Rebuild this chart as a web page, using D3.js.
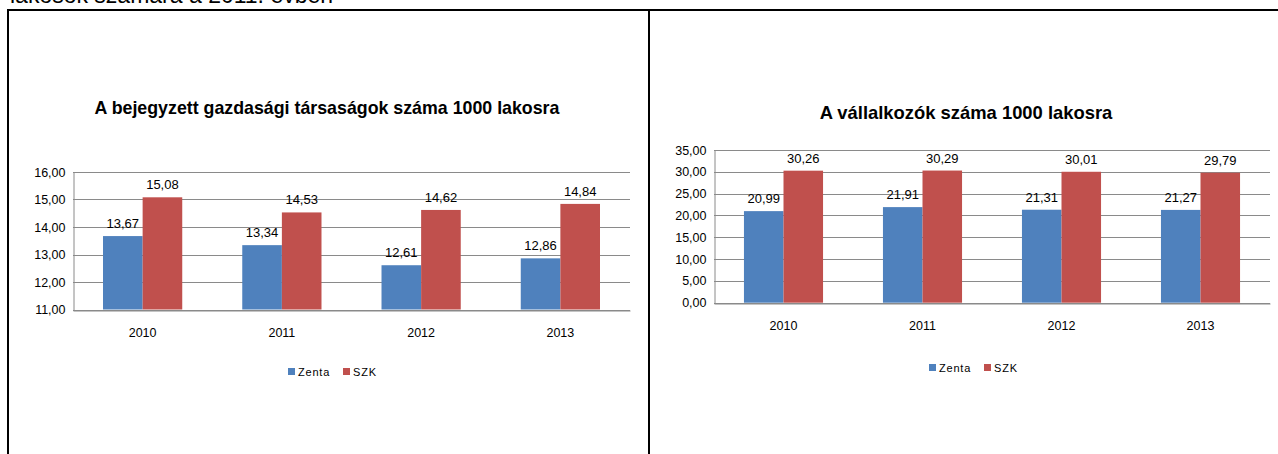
<!DOCTYPE html>
<html>
<head>
<meta charset="utf-8">
<script src="https://cdn.jsdelivr.net/npm/d3@7"></script>
<style>
  html, body { margin: 0; padding: 0; background: #fff; }
  svg { display: block; }
  text { font-family: "Liberation Sans", Arial, sans-serif; fill: #000; }
</style>
</head>
<body>
<svg id="chart" width="1278" height="454"></svg>
<script>
// ---- data ----
const years = ["2010", "2011", "2012", "2013"];
const seriesNames = ["Zenta", "SZK"];
const companiesZenta = [13.67, 13.34, 12.61, 12.86];
const companiesSZK = [15.08, 14.53, 14.62, 14.84];
const entrepreneursZenta = [20.99, 21.91, 21.31, 21.27];
const entrepreneursSZK = [30.26, 30.29, 30.01, 29.79];
const companiesTicks = [11, 12, 13, 14, 15, 16];
const entrepreneursTicks = [0, 5, 10, 15, 20, 25, 30, 35];
const titleLeft = "A bejegyzett gazdasági társaságok száma 1000 lakosra";
const titleRight = "A vállalkozók száma 1000 lakosra";
const headerText = "lakosok számára a 2011. évben";

const colors = ["#4F81BD", "#C0504D"];
const gridColor = "#8a8a8a";
const fmt = v => d3.format(".2f")(v).replace(".", ",");

const svg = d3.select("#chart");

// frame (table borders); the header line of the page above is cut off, as in the reference
svg.append("text").attr("x", 10).attr("y", 3).attr("font-size", 23).text(headerText);
svg.append("line").attr("x1", 7).attr("x2", 1278).attr("y1", 10).attr("y2", 10)
  .attr("stroke", "#000").attr("stroke-width", 2);
svg.append("line").attr("x1", 8).attr("x2", 8).attr("y1", 9).attr("y2", 454)
  .attr("stroke", "#000").attr("stroke-width", 2);
svg.append("line").attr("x1", 649).attr("x2", 649).attr("y1", 9).attr("y2", 454)
  .attr("stroke", "#000").attr("stroke-width", 2);

function drawChart(cfg) {
  const g = svg.append("g");
  const y = d3.scaleLinear().domain(cfg.domain).range([cfg.bottom, cfg.top]);
  const x0 = d3.scaleBand().domain(years).range([cfg.left, cfg.right]).padding(0);
  const gap = x0.step() * 0.2155;
  const x1 = d3.scaleBand().domain(seriesNames).range([gap, x0.step() - gap]).padding(0);

  // gridlines
  g.append("g").selectAll("line").data(cfg.ticks).join("line")
    .attr("x1", cfg.left).attr("x2", cfg.right)
    .attr("y1", d => Math.round(y(d)) + 0.5).attr("y2", d => Math.round(y(d)) + 0.5)
    .attr("stroke", gridColor).attr("stroke-width", 1);

  // y axis
  const yAxis = d3.axisLeft(y).tickValues(cfg.ticks).tickFormat(fmt).tickSize(0).tickPadding(8);
  const ya = g.append("g").attr("transform", `translate(${cfg.left + 0.5},0)`).call(yAxis);
  ya.select(".domain").attr("stroke", gridColor);
  ya.selectAll("text").attr("font-size", 12.5).attr("font-family", "Liberation Sans, Arial, sans-serif").attr("fill", "#000");

  // bars
  const data = years.map((yr, i) => ({ yr, vals: [cfg.series[0][i], cfg.series[1][i]] }));
  const grp = g.append("g").selectAll("g").data(data).join("g")
    .attr("transform", d => `translate(${x0(d.yr)},0)`);
  grp.selectAll("rect").data(d => d.vals.map((v, k) => ({ v, k })))
    .join("rect")
    .attr("x", d => x1(seriesNames[d.k]))
    .attr("width", x1.bandwidth())
    .attr("y", d => y(d.v))
    .attr("height", d => y(cfg.domain[0]) - y(d.v))
    .attr("fill", d => colors[d.k]);
  grp.selectAll("text").data(d => d.vals.map((v, k) => ({ v, k })))
    .join("text")
    .attr("x", d => x1(seriesNames[d.k]) + x1.bandwidth() / 2)
    .attr("y", d => y(d.v) - 8)
    .attr("text-anchor", "middle").attr("font-size", 13)
    .text(d => fmt(d.v));

  // x axis
  const xAxis = d3.axisBottom(x0).tickSize(0).tickPadding(cfg.xPad);
  const xa = g.append("g").attr("transform", `translate(0,${Math.round(cfg.bottom) + 0.5})`).call(xAxis);
  xa.select(".domain").attr("stroke", gridColor);
  xa.selectAll("text").attr("font-size", 12.5).attr("font-family", "Liberation Sans, Arial, sans-serif").attr("fill", "#000");

  // title
  g.append("text").attr("x", cfg.titleX).attr("y", cfg.titleY)
    .attr("text-anchor", "middle").attr("font-size", cfg.titleSize).attr("font-weight", "bold")
    .text(cfg.title);

  // legend
  const lg = g.append("g").attr("transform", `translate(${cfg.legendX},${cfg.legendY})`);
  const offs = [0, 55];
  seriesNames.forEach((s, k) => {
    lg.append("rect").attr("x", offs[k]).attr("y", -4).attr("width", 7).attr("height", 7).attr("fill", colors[k]);
    lg.append("text").attr("x", offs[k] + 10).attr("y", 4).attr("font-size", 11).attr("letter-spacing", 0.8).text(s);
  });
}

drawChart({
  domain: [11, 16], ticks: companiesTicks,
  series: [companiesZenta, companiesSZK],
  left: 73, right: 630, top: 172, bottom: 309.5,
  xPad: 18, title: titleLeft, titleX: 327, titleY: 114, titleSize: 17.8,
  legendX: 288, legendY: 372
});

drawChart({
  domain: [0, 35], ticks: entrepreneursTicks,
  series: [entrepreneursZenta, entrepreneursSZK],
  left: 714, right: 1270, top: 150, bottom: 302.7,
  xPad: 18, title: titleRight, titleX: 966, titleY: 119, titleSize: 18.4,
  legendX: 929, legendY: 368
});
</script>
</body>
</html>
